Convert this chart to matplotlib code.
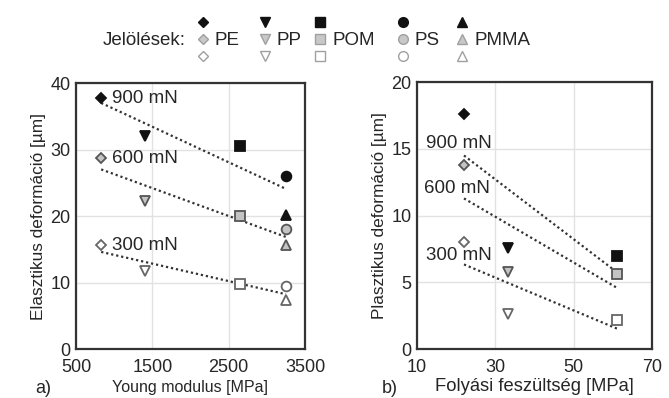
import matplotlib.pyplot as plt
import numpy as np

plt.rcParams['font.family'] = ['Liberation Sans', 'DejaVu Sans']

materials = ['PE', 'PP', 'POM', 'PS', 'PMMA']
marker_shapes = ['D', 'v', 's', 'o', '^']
forces = ['900 mN', '600 mN', '300 mN']

# a) Young modulus [MPa] vs elastic deformation [um]
young = [830, 1400, 2650, 3250, 3250]
elastic = {
    '900 mN': [37.7, 32.0, 30.5, 26.0, 20.2],
    '600 mN': [28.7, 22.2, 20.0, 18.1, 15.7],
    '300 mN': [15.6, 11.8, 9.8, 9.5, 7.3],
}

# b) yield stress [MPa] vs plastic deformation [um] (PE, PP, POM)
yield_stress = [22.0, 33.3, 61.1]
plastic = {
    '900 mN': [17.6, 7.6, 7.0],
    '600 mN': [13.8, 5.8, 5.6],
    '300 mN': [8.0, 2.6, 2.2],
}
plastic_label_pos = [(12.4, 15.4), (11.9, 12.0), (12.4, 7.0)]

# marker styles per force: (face, edge)
styles = {
    '900 mN': ('#111111', '#111111'),
    '600 mN': ('#c4c4c4', '#555555'),
    '300 mN': ('#ffffff', '#666666'),
}
legend_styles = [('#111111', '#111111'), ('#c8c8c8', '#a0a0a0'), ('#ffffff', '#a0a0a0')]

fig = plt.figure(figsize=(6.69, 3.98), dpi=100)
ax1 = fig.add_axes([0.1136, 0.1231, 0.3423, 0.6683])
ax2 = fig.add_axes([0.6233, 0.1231, 0.3513, 0.6708])

line_kw = dict(color='#333333', lw=1.6, linestyle=(0, (1, 1.3)), zorder=2)
txt = '#262626'


def style_axes(ax):
    ax.grid(True, color='#e2e2e2', lw=1.0)
    ax.set_axisbelow(True)
    for s in ax.spines.values():
        s.set_linewidth(1.6)
        s.set_color('#333333')
    ax.tick_params(axis='y', length=0, labelsize=13, colors=txt, pad=4)
    ax.tick_params(axis='x', length=0, labelsize=13, colors=txt, pad=7.5)


# ---- a) ----
for f in forces:
    x = np.array(young)
    y = np.array(elastic[f])
    k, b = np.polyfit(x, y, 1)
    xs = np.array([x.min(), x.max()])
    ax1.plot(xs, k * xs + b, **line_kw)
    fc, ec = styles[f]
    for i, m in enumerate(materials):
        ax1.plot(young[i], elastic[f][i], marker=marker_shapes[i], ms=7 if i != 0 else 5.5,
                 mfc=fc, mec=ec, mew=1.3, ls='none', zorder=3)
    ax1.annotate(f, (young[0], elastic[f][0]), xytext=(7.5, 0), textcoords='offset points',
                 va='center', ha='left', fontsize=13.5, color=txt)

ax1.set_xlim(500, 3500)
ax1.set_ylim(0, 40)
ax1.set_xticks([500, 1500, 2500, 3500])
ax1.set_yticks([0, 10, 20, 30, 40])
style_axes(ax1)
ax1.set_ylabel('Elasztikus deformáció [µm]', fontsize=12.4, color=txt, labelpad=3)
ax1.set_xlabel('Young modulus [MPa]', fontsize=11.5, color=txt, labelpad=2.5)
ax1.text(-0.18, -0.115, 'a)', transform=ax1.transAxes, fontsize=13, va='top', color=txt)

# ---- b) ----
for j, f in enumerate(forces):
    x = np.array(yield_stress)
    y = np.array(plastic[f])
    k, b = np.polyfit(x, y, 1)
    xs = np.array([x.min(), x.max()])
    ax2.plot(xs, k * xs + b, **line_kw)
    fc, ec = styles[f]
    for i in range(len(yield_stress)):
        ax2.plot(yield_stress[i], plastic[f][i], marker=marker_shapes[i], ms=7 if i != 0 else 5.5,
                 mfc=fc, mec=ec, mew=1.3, ls='none', zorder=3)
    ax2.text(plastic_label_pos[j][0], plastic_label_pos[j][1], f, va='center', ha='left',
             fontsize=13.5, color=txt)

ax2.set_xlim(10, 70)
ax2.set_ylim(0, 20)
ax2.set_xticks([10, 30, 50, 70])
ax2.set_yticks([0, 5, 10, 15, 20])
style_axes(ax2)
ax2.set_ylabel('Plasztikus deformáció [µm]', fontsize=12.4, color=txt, labelpad=3)
ax2.set_xlabel('Folyási feszültség [MPa]', fontsize=13.2, color=txt, labelpad=1)
ax2.text(-0.15, -0.115, 'b)', transform=ax2.transAxes, fontsize=13, va='top', color=txt)

# ---- legend on top ----
lax = fig.add_axes([0, 0.82, 1, 0.18])
lax.set_xlim(0, 669)
lax.set_ylim(71.6, 0)
lax.axis('off')
lax.text(186, 40, 'Jelölések:', ha='right', va='center', fontsize=13.5, color=txt)
leg_x = [203, 265, 320, 403, 462]
for i, m in enumerate(materials):
    for r, (fc, ec) in enumerate(legend_styles):
        lax.plot(leg_x[i], 22 + r * 17, marker=marker_shapes[i], ms=7 if i != 0 else 5.5,
                 mfc=fc, mec=ec, mew=1.0, ls='none')
    lax.text(leg_x[i] + 12, 40, m, ha='left', va='center', fontsize=13.5, color=txt)

fig.savefig('out.png', dpi=100)
